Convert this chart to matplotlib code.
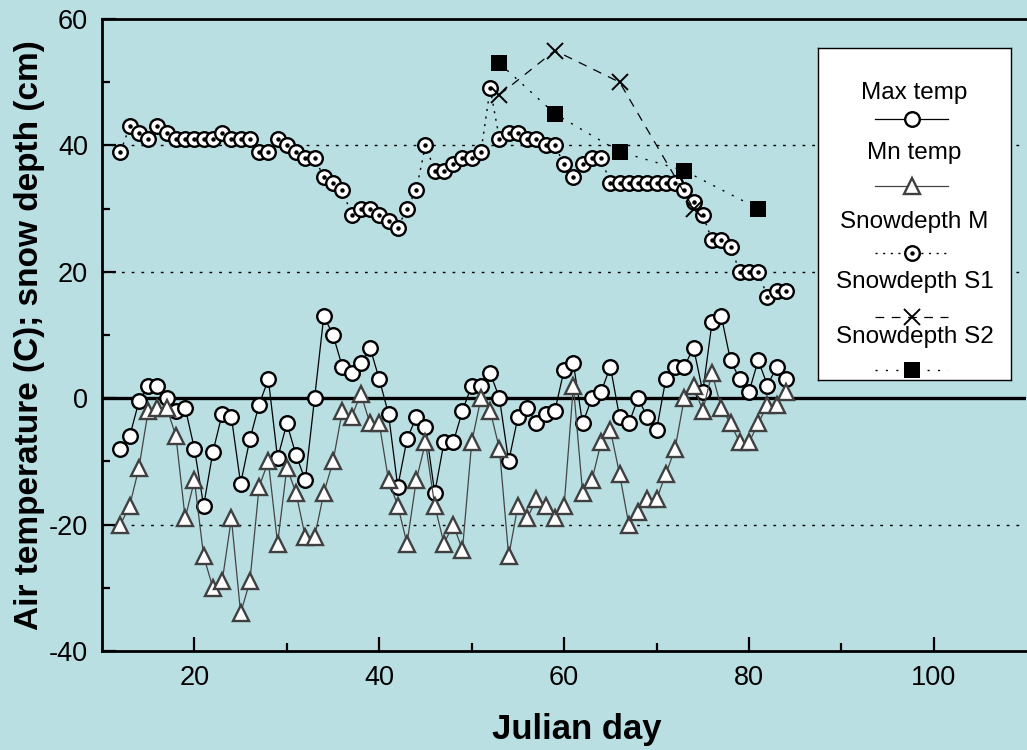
import matplotlib
matplotlib.use('Agg')
import matplotlib.pyplot as plt

# Daily air temperature, days 12-84
days = [12, 13, 14, 15, 16, 17, 18, 19, 20, 21,
        22, 23, 24, 25, 26, 27, 28, 29, 30, 31,
        32, 33, 34, 35, 36, 37, 38, 39, 40, 41,
        42, 43, 44, 45, 46, 47, 48, 49, 50, 51,
        52, 53, 54, 55, 56, 57, 58, 59, 60, 61,
        62, 63, 64, 65, 66, 67, 68, 69, 70, 71,
        72, 73, 74, 75, 76, 77, 78, 79, 80, 81,
        82, 83, 84]
max_temp = [-8, -6, -0.5, 2, 2, 0, -2, -1.5, -8, -17,
            -8.5, -2.5, -3, -13.5, -6.5, -1, 3, -9.5, -4, -9,
            -13, 0, 13, 10, 5, 4, 5.5, 8, 3, -2.5,
            -14, -6.5, -3, -4.5, -15, -7, -7, -2, 2, 2,
            4, 0, -10, -3, -1.5, -4, -2.5, -2, 4.5, 5.5,
            -4, 0, 1, 5, -3, -4, 0, -3, -5, 3,
            5, 5, 8, 1, 12, 13, 6, 3, 1, 6,
            2, 5, 3]
min_temp = [-20, -17, -11, -2, -1.5, -1.5, -6, -19, -13, -25,
            -30, -29, -19, -34, -29, -14, -10, -23, -11, -15,
            -22, -22, -15, -10, -2, -3, 0.7, -4, -4, -13,
            -17, -23, -13, -7, -17, -23, -20, -24, -7, 0,
            -2, -8, -25, -17, -19, -16, -17, -19, -17, 2,
            -15, -13, -7, -5, -12, -20, -18, -16, -16, -12,
            -8, 0, 2, -2, 4, -1.5, -4, -7, -7, -4,
            -1, -1, 1]
# Snow depth at the main site (daily) and two secondary sites
snow_m = [39, 43, 42, 41, 43, 42, 41, 41, 41, 41,
          41, 42, 41, 41, 41, 39, 39, 41, 40, 39,
          38, 38, 35, 34, 33, 29, 30, 30, 29, 28,
          27, 30, 33, 40, 36, 36, 37, 38, 38, 39,
          49, 41, 42, 42, 41, 41, 40, 40, 37, 35,
          37, 38, 38, 34, 34, 34, 34, 34, 34, 34,
          34, 33, 31, 29, 25, 25, 24, 20, 20, 20,
          16, 17, 17]
s1_days = [53, 59, 66, 74]
snow_s1 = [48, 55, 50, 30]
s2_days = [53, 59, 66, 73, 81]
snow_s2 = [53, 45, 39, 36, 30]

labels = ['Max temp', 'Mn temp', 'Snowdepth M', 'Snowdepth S1', 'Snowdepth S2']

bg = '#b9dfe3'
plt.rcParams['font.family'] = ['Liberation Sans', 'DejaVu Sans']
plt.rcParams['axes.unicode_minus'] = False

styles = [
    dict(color='black', lw=0.9, ls='-', marker='o', ms=10.5, mfc='white', mec='black', mew=1.7),
    dict(color='#444444', lw=0.9, ls='-', marker='^', ms=12, mfc='white', mec='#404040', mew=1.7),
    dict(color='black', lw=1.0, ls=(0, (1.5, 4)), marker='o', ms=10.5, mfc='white', mec='black', mew=1.7),
    dict(color='black', lw=0.9, ls=(0, (7, 6)), marker='x', ms=12, mew=1.4),
    dict(color='black', lw=1.0, ls=(0, (1.5, 6)), marker='s', ms=11, mew=0),
]
dot = dict(ls='none', marker='o', ms=2.2, color='black')

fig = plt.figure(figsize=(10.27, 7.5), dpi=100, facecolor=bg)
ax = fig.add_axes([0.0993, 0.132, 0.9, 0.8427], facecolor=bg)

for y in (-20, 20, 40):
    ax.axhline(y, color='black', lw=1.0, ls=(0, (2, 5)), zorder=1)
ax.axhline(0, color='black', lw=2.4, zorder=1)

ax.plot(days, max_temp, zorder=3, **styles[0])
ax.plot(days, min_temp, zorder=3, **styles[1])
ax.plot(days, snow_m, zorder=3, **styles[2])
ax.plot(days, snow_m, zorder=3, **dot)
ax.plot(s1_days, snow_s1, zorder=3, **styles[3])
ax.plot(s2_days, snow_s2, zorder=3, **styles[4])

ax.set_xlim(10, 110)
ax.set_ylim(-40, 60)
ax.set_xticks([20, 40, 60, 80, 100])
ax.set_xticks([30, 50, 70, 90], minor=True)
ax.set_yticks([-40, -20, 0, 20, 40, 60])
ax.set_yticks([-30, -10, 10, 30, 50], minor=True)
ax.tick_params(which='major', direction='in', length=10, width=1.6, labelsize=19.5, pad=10)
ax.tick_params(which='minor', direction='in', length=6, width=1.6)
ax.spines['right'].set_visible(False)
for side in ('left', 'bottom', 'top'):
    ax.spines[side].set_linewidth(2)

ax.set_xlabel('Julian day', fontsize=25, fontweight='bold', labelpad=16)
ax.xaxis.label.set_x(0.514)
ax.set_ylabel('Air temperature (C); snow depth (cm)', fontsize=24, fontweight='bold', labelpad=3)

# legend box: label above each line sample
lax = fig.add_axes([818 / 1027, 1 - 380 / 750, 193 / 1027, 332 / 750], facecolor='white')
lax.set_xlim(0, 1)
lax.set_ylim(0, 1)
lax.set_xticks([])
lax.set_yticks([])
for sp in lax.spines.values():
    sp.set_linewidth(1.0)
label_y = [0.864, 0.684, 0.476, 0.295, 0.130]
sample_y = [0.786, 0.584, 0.383, 0.190, 0.030]
for i, lab in enumerate(labels):
    lax.text(0.5, label_y[i], lab, ha='center', va='center', fontsize=17.5)
    lax.plot([0.295, 0.485, 0.675], [sample_y[i]] * 3, markevery=[1], clip_on=False, **styles[i])
    if i == 2:
        lax.plot([0.485], [sample_y[i]], clip_on=False, **dot)

fig.savefig('out.png', dpi=100, facecolor=bg)
